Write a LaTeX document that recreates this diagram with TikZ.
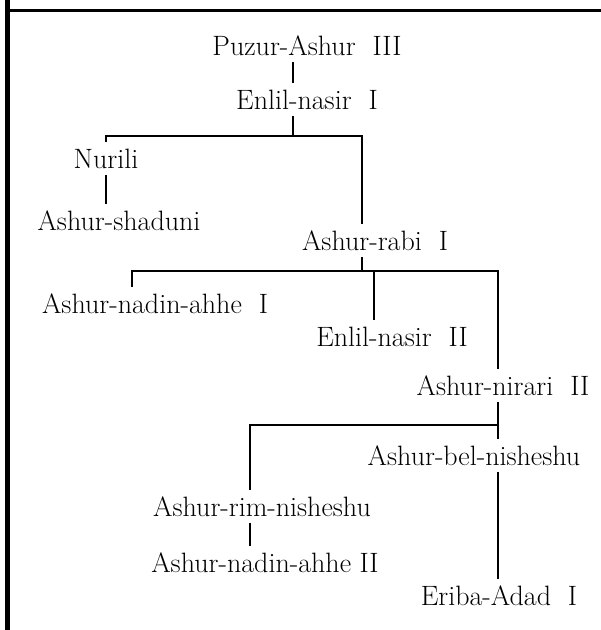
\documentclass[tikz,border=0pt]{standalone}
\begin{document}
\begin{tikzpicture}[
    x=1pt, y=-1pt,
    every node/.style={font=\fontsize{28}{33}\selectfont},
    king/.style={inner sep=0pt, outer xsep=0pt, outer ysep=7pt,
                 text height=19pt, text depth=0pt, anchor=base},
    link/.style={line width=2pt},
]
\useasboundingbox (0,0) rectangle (601,630);
% frame: heavy rule on the left, thinner one along the top
\draw[line width=5pt] (7,0) -- (7,630);
\draw[line width=3pt] (7,10) -- (601,10);
% rulers, placed at the baselines of their names
\node[king] (pz)  at (307,55)  {Puzur-Ashur\ \ III};
\node[king] (en1) at (307,109) {Enlil-nasir\ \ I};
\node[king] (nu)  at (106,168) {Nurili};
\node[king] (sh)  at (119,230) {Ashur-shaduni};
\node[king] (ra)  at (375,250) {Ashur-rabi\ \ I};
\node[king] (an1) at (155,313) {Ashur-nadin-ahhe\ \ I};
\node[king] (en2) at (392,346) {Enlil-nasir\ \ II};
\node[king] (nr)  at (503,395) {Ashur-nirari\ \ II};
\node[king] (be)  at (474,465) {Ashur-bel-nisheshu};
\node[king] (ri)  at (262,516) {Ashur-rim-nisheshu};
\node[king] (an2) at (265,572) {Ashur-nadin-ahhe II};
\node[king] (er)  at (499,605) {Eriba-Adad\ \ I};
% forks and the columns the lines drop along
\coordinate (c1) at (293,136);
\coordinate (c2) at (362,271);
\coordinate (c3) at (498,425);
\coordinate (t1) at (132,271);
\coordinate (t2) at (374,271);
\coordinate (t3) at (250,425);
% line of descent
\draw[link] (pz.south -| c1) -- (en1.north -| c1);
\draw[link] (en1.south -| c1) -- (c1);
\draw[link] (nu.north) |- (c1) -| (ra.north -| c2);
\draw[link] (nu.south) -- (sh.north -| nu.south);
\draw[link] (ra.south -| c2) -- (c2);
\draw[link] (an1.north -| t1) |- (c2) -| (nr.north -| c3);
\draw[link] (t2) -- (en2.north -| t2);
\draw[link] (nr.south -| c3) -- (be.north -| c3);
\draw[link] (c3) -| (ri.north -| t3);
\draw[link] (ri.south -| t3) -- (an2.north -| t3);
\draw[link] (be.south -| c3) -- (er.north -| c3);
\end{tikzpicture}
\end{document}
